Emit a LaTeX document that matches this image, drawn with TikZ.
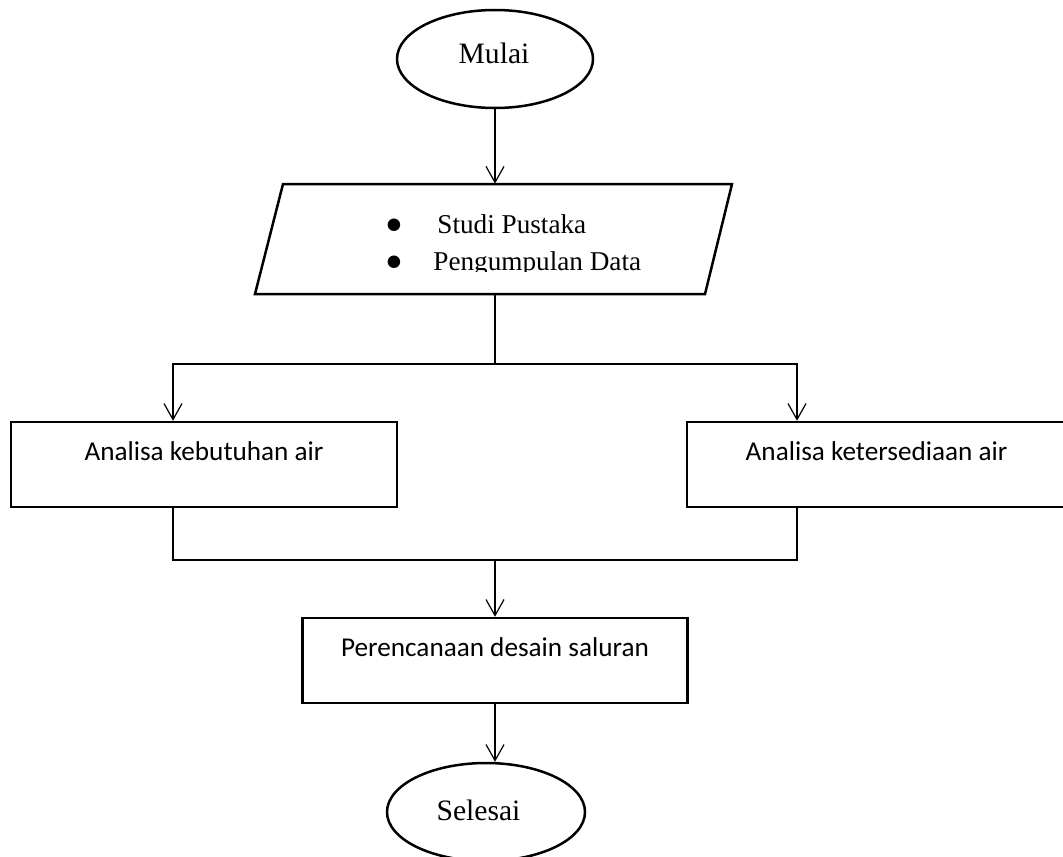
\documentclass[tikz,border=0pt]{standalone}
\usepackage{fontspec}
\setmainfont{Liberation Serif}
\newfontfamily\carlito{Carlito}
\newfontfamily\dejavu{DejaVu Sans}
\usetikzlibrary{arrows.meta,shapes.geometric,calc}
\newcommand{\bigbul}[1]{\llap{\raisebox{1.6pt}[0pt][0pt]{\dejavu\fontsize{8.2}{8.2}\selectfont ●}\hspace{#1}}}
\begin{document}
\begin{tikzpicture}[x=0.5pt,y=-0.5pt,
  boxshape/.style={draw, rectangle, line width=1.25pt, inner sep=0pt},
  ell/.style={draw, ellipse, line width=1.25pt, inner sep=0pt},
  conn/.style={line width=0.6pt},
  arr/.style={conn, -{Straight Barb[length=8pt,width=9pt,line width=0.6pt]}},
  serifbig/.style={font=\fontsize{14.8}{17}\selectfont},
  seriftxt/.style={font=\fontsize{13.6}{16}\selectfont, inner sep=0pt},
  sanstxt/.style={font=\carlito\fontsize{13.6}{16}\selectfont}]
\useasboundingbox (0,0) rectangle (1063,856);

% start
\node[ell, minimum width=98pt, minimum height=49pt,
  label={[serifbig, yshift=3pt, xshift=-0.5pt]center:Mulai}] (mulai) at (495,59) {};

% parallelogram (data input)
\node[minimum width=225pt, minimum height=55pt, inner sep=0pt] (data) at (495,239) {};
\draw[line width=1.25pt] (283,184) -- (732,184) -- (705,294) -- (255,294) -- cycle;
\begin{scope}
  \clip (0,0) rectangle (1063,271.5);
  \node[seriftxt, anchor=base west] (t1) at (437,233) {\bigbul{18.1pt}Studi Pustaka};
  \node[seriftxt, anchor=base west] (t2) at (433,270) {\bigbul{16.1pt}Pengumpulan Data};
\end{scope}

% analysis boxes
\node[boxshape, minimum width=193pt, minimum height=42.5pt,
  label={[sanstxt, yshift=6.75pt]center:Analisa kebutuhan air}] (keb) at (204,464.5) {};
\node[boxshape, minimum width=189.5pt, minimum height=42.5pt,
  label={[sanstxt, yshift=6.75pt]center:Analisa ketersediaan air}] (ket) at (876.5,464.5) {};

% design box
\node[boxshape, minimum width=192.5pt, minimum height=42.5pt,
  label={[sanstxt, yshift=6.75pt]center:Perencanaan desain saluran}] (per) at (495,660.5) {};

% end
\node[ell, minimum width=99pt, minimum height=49pt,
  label={[serifbig, yshift=1pt, xshift=-3.75pt]center:Selesai}] (sel) at (486,812) {};

% connectors
\coordinate (split) at (495,364);
\coordinate (join) at (495,560);
\draw[arr] (mulai.south) -- (data.north);
\draw[conn] (data.south) -- (split);
\draw[arr] (split) -| ($(keb.north)+(-31,0)$);
\draw[arr] (split) -| ($(ket.north)+(-79.5,0)$);
\draw[conn] ($(keb.south)+(-31,0)$) |- (join);
\draw[conn] ($(ket.south)+(-79.5,0)$) |- (join);
\draw[arr] (join) -- (per.north);
\draw[arr] (per.south) -- (per.south |- sel.north);
\end{tikzpicture}
\end{document}
